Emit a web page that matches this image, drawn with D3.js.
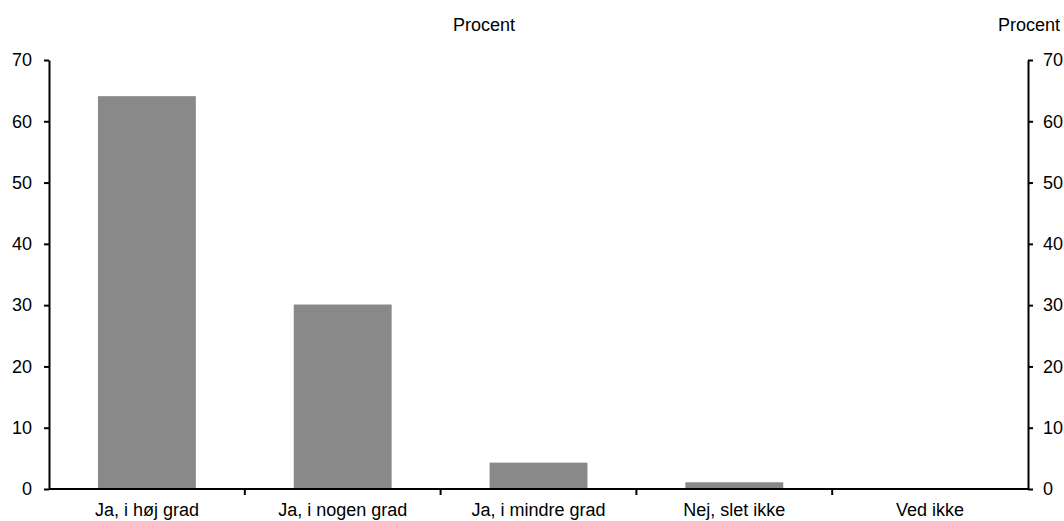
<!DOCTYPE html>
<html>
<head>
<meta charset="utf-8">
<script src="https://cdn.jsdelivr.net/npm/d3@7"></script>
<style>
    body { margin: 0; background: #fff; }
    text { font-family: "Liberation Sans", Arial, sans-serif; fill: #000; }
</style>
</head>
<body>
<svg class="chart" width="1064" height="521"></svg>
<script>
var categories = ["Ja, i høj grad", "Ja, i nogen grad", "Ja, i mindre grad", "Nej, slet ikke", "Ved ikke"];
var values = [64.1, 30.1, 4.3, 1.1, 0];
var yTicks = [0, 10, 20, 30, 40, 50, 60, 70];

var svg = d3.select(".chart");
var plotLeft = 49, plotRight = 1028, plotTop = 60, plotBottom = 489;
var fontSize = "18px";

var x = d3.scaleBand()
    .domain(categories)
    .range([plotLeft, plotRight])
    .paddingInner(0.5)
    .paddingOuter(0.25);
var y = d3.scaleLinear()
    .domain([0, 70])
    .range([plotBottom, plotTop]);

// bars
svg.selectAll("rect.bar")
    .data(values)
    .enter().append("rect")
    .attr("class", "bar")
    .attr("x", function(d, i) { return x(categories[i]); })
    .attr("y", function(d) { return y(d); })
    .attr("width", x.bandwidth())
    .attr("height", function(d) { return y(0) - y(d); })
    .attr("fill", "#898989");

function styleAxis(g) {
    g.select(".domain").attr("stroke", "#000").attr("stroke-width", 2);
    g.selectAll(".tick line").attr("stroke", "#000").attr("stroke-width", 2);
    g.selectAll(".tick text").style("font-size", fontSize);
}

// left axis
svg.append("g")
    .attr("transform", "translate(" + plotLeft + ",0)")
    .call(d3.axisLeft(y).tickValues(yTicks).tickSize(5).tickSizeOuter(0).tickPadding(12))
    .call(styleAxis);

// right axis
svg.append("g")
    .attr("transform", "translate(" + plotRight + ",0)")
    .call(d3.axisRight(y).tickValues(yTicks).tickSize(5).tickSizeOuter(0).tickPadding(10))
    .call(styleAxis);

// baseline with category boundaries
var step = x.step();
var bounds = d3.range(1, categories.length).map(function(i) { return plotLeft + i * step; });
svg.append("line")
    .attr("x1", plotLeft).attr("x2", plotRight)
    .attr("y1", plotBottom).attr("y2", plotBottom)
    .attr("stroke", "#000").attr("stroke-width", 2);
svg.selectAll("line.ctick")
    .data(bounds)
    .enter().append("line")
    .attr("class", "ctick")
    .attr("x1", function(d) { return d; }).attr("x2", function(d) { return d; })
    .attr("y1", plotBottom).attr("y2", plotBottom + 6)
    .attr("stroke", "#000").attr("stroke-width", 2);

// category labels
svg.selectAll("text.cat")
    .data(categories)
    .enter().append("text")
    .attr("class", "cat")
    .attr("x", function(d) { return x(d) + x.bandwidth() / 2; })
    .attr("y", plotBottom + 27)
    .attr("text-anchor", "middle")
    .style("font-size", fontSize)
    .text(function(d) { return d; });

// unit labels
svg.append("text")
    .attr("x", 484).attr("y", 31)
    .attr("text-anchor", "middle")
    .style("font-size", fontSize)
    .text("Procent");
svg.append("text")
    .attr("x", 1029).attr("y", 31)
    .attr("text-anchor", "middle")
    .style("font-size", fontSize)
    .text("Procent");
</script>
</body>
</html>
